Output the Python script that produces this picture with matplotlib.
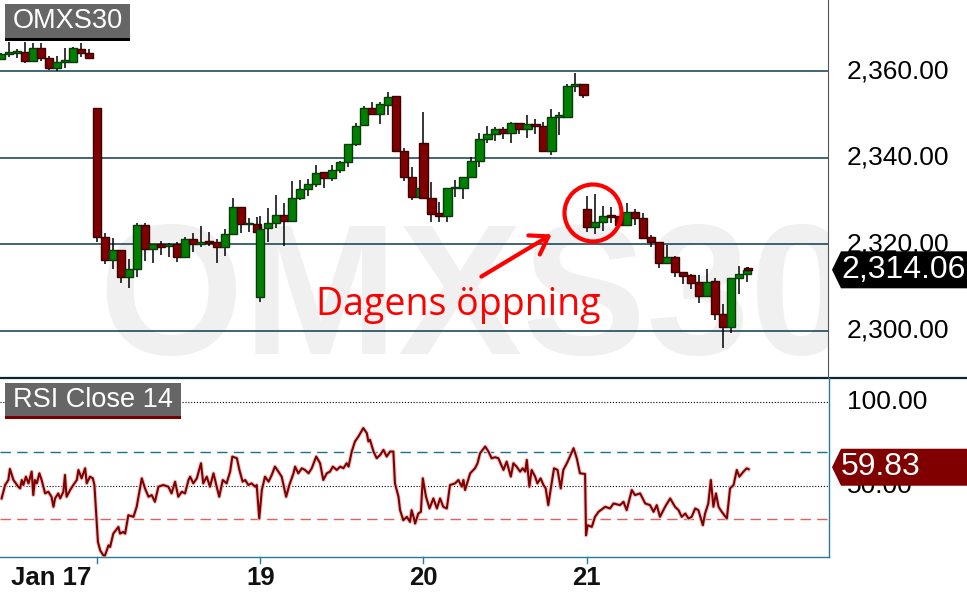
import matplotlib
matplotlib.use("Agg")
import matplotlib.pyplot as plt
import matplotlib.transforms as mtrans
from matplotlib.patches import Rectangle, Polygon, Circle, FancyArrowPatch
from matplotlib.lines import Line2D

# ---------------- data ----------------
day_labels = ["Jan 17", "19", "20", "21"]
day_offsets = [0, 510, 1020, 1530]          # session minutes at each day's open
prev_offset = -525
slot_min_prev = [225, 250, 275, 300, 325, 350, 375, 400, 425, 450, 475, 500]
slot_min_full = [0, 25, 50, 75, 100, 125, 150, 175, 200, 225, 250, 275, 300,
                 325, 350, 375, 400, 425, 450, 475, 500]
slot_min_last = slot_min_full + [505]

prev_open = [2362.8, 2364.05, 2364.2, 2364.45, 2362.5, 2365.4, 2363.05, 2360.75, 2362.25, 2362.25, 2365.15, 2364.2]
prev_high = [2364.2, 2366.9, 2365.1, 2366.8, 2366.5, 2366.5, 2363.6, 2363.6, 2365.4, 2365.75, 2366.5, 2365.15]
prev_low = [2362.6, 2363.4, 2363.05, 2362.0, 2362.4, 2362.5, 2360.35, 2360.1, 2360.75, 2361.9, 2363.4, 2363.0]
prev_close = [2364.05, 2364.45, 2364.7, 2362.5, 2365.4, 2363.05, 2360.75, 2362.25, 2362.65, 2365.4, 2364.2, 2363.05]

d17_open = [2351.5, 2321.7, 2316.3, 2318.65, 2312.3, 2314.2, 2324.45, 2318.8, 2319.95, 2319.6, 2319.95,
            2317.1, 2321.1, 2319.95, 2320.7, 2320.55, 2319.4, 2322.3, 2328.55, 2324.6, 2324.6]
d17_high = [2351.5, 2322.5, 2321.35, 2318.7, 2316.5, 2324.85, 2324.85, 2320.0, 2320.7, 2320.2, 2320.6,
            2321.7, 2322.5, 2324.2, 2322.9, 2321.1, 2323.45, 2330.6, 2328.6, 2326.0, 2326.4]
d17_low = [2320.6, 2315.35, 2314.2, 2311.1, 2309.8, 2312.3, 2316.2, 2315.6, 2317.5, 2317.0, 2315.95,
           2317.0, 2318.25, 2319.3, 2319.6, 2315.7, 2317.25, 2322.3, 2322.65, 2322.9, 2322.7]
d17_close = [2321.6, 2316.3, 2318.65, 2312.3, 2314.2, 2324.45, 2318.8, 2319.95, 2319.4, 2319.95, 2317.1,
             2321.1, 2319.95, 2320.55, 2320.2, 2319.4, 2322.3, 2328.55, 2324.6, 2324.85, 2322.75]

d19_open = [2307.8, 2323.7, 2324.85, 2326.75, 2325.35, 2330.6, 2332.7, 2333.9, 2336.65, 2335.25, 2337.2,
            2338.95, 2343.2, 2347.5, 2351.5, 2350.1, 2352.2, 2354.3, 2341.6, 2335.5, 2331.0]
d19_high = [2326.5, 2328.3, 2331.4, 2329.5, 2334.6, 2334.85, 2335.0, 2338.35, 2336.7, 2338.35, 2339.2,
            2343.3, 2348.1, 2352.0, 2352.85, 2353.0, 2355.2, 2354.3, 2342.2, 2337.95, 2333.0]
d19_low = [2306.7, 2320.6, 2323.8, 2319.65, 2325.3, 2330.2, 2331.2, 2333.3, 2333.1, 2334.7, 2336.4,
           2337.8, 2342.75, 2347.5, 2350.0, 2347.8, 2349.85, 2341.5, 2334.7, 2330.2, 2330.9]
d19_close = [2323.5, 2324.85, 2326.75, 2325.35, 2330.6, 2332.7, 2333.9, 2336.4, 2335.25, 2337.2, 2338.95,
             2343.2, 2347.4, 2351.5, 2350.1, 2352.5, 2354.0, 2341.6, 2335.5, 2331.0, 2332.95]

d20_open = [2343.5, 2330.6, 2327.15, 2326.6, 2332.9, 2332.95, 2335.5, 2339.25, 2344.3, 2345.5, 2346.6,
            2345.7, 2348.0, 2346.6, 2347.75, 2347.4, 2341.65, 2349.5, 2349.5, 2356.65, 2357.1]
d20_high = [2350.7, 2334.5, 2329.85, 2333.0, 2334.85, 2335.6, 2340.1, 2345.8, 2347.4, 2347.2, 2347.2,
            2348.3, 2348.1, 2349.9, 2348.9, 2348.4, 2351.25, 2350.7, 2357.1, 2359.6, 2357.1]
d20_low = [2330.7, 2325.2, 2325.2, 2325.2, 2331.0, 2330.4, 2335.4, 2337.8, 2343.35, 2343.9, 2344.35,
           2343.5, 2345.45, 2344.7, 2345.45, 2341.4, 2340.65, 2345.3, 2349.5, 2355.3, 2353.9]
d20_close = [2330.8, 2327.0, 2326.6, 2332.95, 2333.2, 2335.5, 2339.25, 2344.3, 2345.45, 2346.6, 2345.7,
             2348.0, 2346.6, 2347.75, 2347.3, 2341.65, 2349.4, 2349.9, 2356.65, 2357.1, 2354.5]

d21_open = [2328.1, 2324.05, 2325.2, 2326.75, 2326.5, 2324.4, 2327.4, 2326.0, 2321.7, 2320.4, 2315.6,
            2316.95, 2313.5, 2312.85, 2311.2, 2308.1, 2311.5, 2303.75, 2300.9, 2312.1, 2313.0, 2314.4]
d21_high = [2331.15, 2331.6, 2328.85, 2328.7, 2326.6, 2329.5, 2328.1, 2327.15, 2322.1, 2320.6, 2319.8,
            2317.3, 2313.6, 2313.0, 2312.85, 2314.25, 2312.1, 2306.15, 2312.2, 2314.95, 2314.8, 2314.6]
d21_low = [2322.9, 2322.35, 2323.1, 2324.85, 2324.3, 2324.3, 2324.4, 2321.1, 2319.4, 2314.55, 2315.5,
           2312.3, 2310.8, 2309.6, 2306.45, 2308.0, 2302.4, 2295.9, 2299.5, 2308.45, 2311.3, 2313.9]
d21_close = [2324.05, 2325.2, 2326.5, 2326.4, 2324.4, 2327.4, 2326.0, 2321.5, 2320.4, 2315.6, 2316.95,
             2313.5, 2312.7, 2310.9, 2308.1, 2311.2, 2303.75, 2300.9, 2312.1, 2313.0, 2314.0, 2314.06]

price_ticks = [2300, 2320, 2340, 2360]
price_tick_labels = ["2,300.00", "2,320.00", "2,340.00", "2,360.00"]
last_price = 2314.06
last_price_label = "2,314.06"

rsi_t = [-298, -287, -277, -272, -261, -246, -240, -235, -230, -222, -214, -204, -199, -194, -188, -180,
         -173, -162, -152, -142, -136, -131, -121, -115, -105, -100, -95, -84, -74, -63, -58, -48, -37,
         -32, -22, -13, -8, 3, 10, 20, 25, 36, 41, 51, 67, 72, 82, 88, 98, 114, 124, 140, 150, 161, 171,
         181, 192, 207, 223, 233, 244, 254, 265, 275, 286, 291, 301, 312, 325, 332, 343, 353, 364, 374,
         382, 393, 405, 416, 423, 437, 445, 455, 463, 473, 483, 494, 499, 507, 515, 525, 536, 546, 556,
         567, 577, 591, 601, 614, 619, 629, 640, 650, 661, 671, 685, 697, 707, 718, 728, 737, 749, 760,
         770, 780, 786, 796, 806, 817, 832, 843, 848, 853, 864, 874, 885, 895, 905, 916, 926, 931, 942,
         947, 957, 968, 978, 983, 989, 994, 1004, 1012, 1018, 1028, 1039, 1051, 1062, 1072, 1082, 1093,
         1103, 1119, 1129, 1140, 1145, 1150, 1166, 1181, 1189, 1197, 1213, 1223, 1233, 1244, 1254, 1270,
         1280, 1293, 1301, 1311, 1322, 1330, 1338, 1343, 1351, 1358, 1369, 1376, 1386, 1395, 1402, 1410,
         1418, 1428, 1439, 1449, 1457, 1468, 1473, 1489, 1499, 1509, 1525, 1528, 1533, 1546, 1556, 1567,
         1588, 1603, 1614, 1634, 1645, 1655, 1671, 1681, 1697, 1713, 1728, 1739, 1749, 1759, 1775, 1791,
         1806, 1817, 1827, 1838, 1848, 1858, 1869, 1879, 1893, 1900, 1910, 1918, 1926, 1934, 1942, 1952,
         1968, 1978, 1989, 1999, 2007, 2020, 2030, 2036]
rsi_v = [42.4, 50.4, 53.4, 60.0, 53.4, 49.4, 48.4, 53.4, 50.4, 55.4, 51.4, 58.4, 44.4, 53.4, 51.4, 57.4,
         53.4, 45.4, 46.4, 43.4, 37.4, 42.4, 45.4, 42.4, 46.4, 56.4, 43.4, 47.4, 50.4, 53.4, 59.4, 54.4, 60.4,
         51.4, 55.4, 54.4, 50.4, 16.4, 11.4, 8.4, 8.4, 14.4, 13.4, 21.4, 25.4, 21.4, 22.4, 21.4, 32.4, 31.4,
         37.4, 54.4, 48.4, 43.4, 44.4, 40.4, 49.4, 50.4, 49.4, 45.4, 52.4, 43.4, 46.4, 45.4, 53.4, 55.4,
         51.4, 54.4, 63.4, 51.4, 55.4, 49.4, 57.4, 49.4, 43.4, 53.4, 51.4, 58.4, 67.4, 66.4, 59.4, 52.4,
         53.4, 50.4, 51.4, 49.4, 50.4, 30.4, 47.4, 55.4, 52.4, 56.4, 61.4, 58.4, 55.4, 43.4, 50.4, 57.4,
         61.4, 57.4, 60.4, 59.4, 57.4, 60.4, 67.4, 63.4, 53.4, 57.4, 58.4, 61.4, 59.4, 61.4, 60.4, 63.4,
         61.4, 70.4, 76.4, 79.4, 84.4, 81.4, 76.4, 77.4, 70.4, 66.4, 68.4, 71.4, 67.4, 70.4, 70.4, 51.4,
         43.4, 35.4, 29.4, 31.4, 28.4, 35.4, 31.4, 27.4, 33.4, 34.4, 54.4, 43.4, 36.4, 42.4, 36.4, 42.4,
         37.4, 36.4, 50.4, 51.4, 53.4, 49.4, 53.4, 47.4, 57.4, 60.4, 63.4, 69.4, 73.4, 70.4, 66.4, 67.0,
         66.4, 59.4, 64.4, 55.4, 63.4, 61.4, 58.4, 60.4, 58.4, 65.4, 49.4, 59.4, 55.4, 51.4, 54.4, 50.4,
         48.4, 38.4, 48.4, 60.4, 59.4, 48.4, 59.4, 63.4, 65.4, 72.4, 66.4, 57.4, 57.0, 20.4, 26.4, 25.4,
         31.4, 34.4, 37.4, 36.4, 39.4, 38.4, 40.4, 35.4, 47.4, 44.4, 45.4, 39.4, 38.4, 34.4, 38.4, 31.4,
         37.4, 42.4, 37.4, 35.4, 31.4, 33.4, 30.4, 31.4, 36.4, 35.4, 26.4, 33.4, 39.4, 53.4, 37.4, 45.4,
         37.4, 34.4, 30.4, 48.4, 50.4, 59.4, 55.4, 58.4, 60.4, 59.83]
rsi_last_label = "59.83"
rsi_levels_dotted = [100, 50]
rsi_levels_dashed = [70, 30]
rsi_tick_labels = ["100.00", "50.00"]

# ---------------- layout ----------------
W, H = 967, 599
fig = plt.figure(figsize=(W / 100, H / 100), dpi=100)
fig.patch.set_facecolor("white")
pix = mtrans.Affine2D().scale(1.0 / W, -1.0 / H).translate(0, 1) + fig.transFigure

SEP_Y, BOT_Y, RIGHT_X = 378, 557, 828
ax = fig.add_axes([0, 1 - SEP_Y / H, RIGHT_X / W, SEP_Y / H])
rax = fig.add_axes([0, 1 - BOT_Y / H, RIGHT_X / W, (BOT_Y - SEP_Y) / H])

XMIN, XMAX = -303, 2284
for a in (ax, rax):
    a.set_xlim(XMIN, XMAX)
    a.set_xticks([])
    a.set_yticks([])
    for s in a.spines.values():
        s.set_visible(False)
    a.patch.set_alpha(0)
ax.set_ylim(2289.0, 2376.56)
rax.set_ylim(7.43, 114.3)

FONT = "Liberation Sans"

# watermark
ax.text(98 / RIGHT_X, (SEP_Y - 354) / SEP_Y, "OMXS30", transform=ax.transAxes, fontsize=134,
        family=FONT, fontweight="bold", color="#f0f0f0", ha="left", va="baseline", zorder=0,
        clip_on=True)

# grid lines
for p in price_ticks:
    ax.axhline(p, color="#0f3a4d", lw=1.1, zorder=1)

# candles
GREEN, GREEN_E = "#008000", "#0b3a0b"
RED, RED_E = "#800000", "#3a0000"
days = [
    (prev_offset, slot_min_prev, prev_open, prev_high, prev_low, prev_close),
    (day_offsets[0], slot_min_full, d17_open, d17_high, d17_low, d17_close),
    (day_offsets[1], slot_min_full, d19_open, d19_high, d19_low, d19_close),
    (day_offsets[2], slot_min_full, d20_open, d20_high, d20_low, d20_close),
    (day_offsets[3], slot_min_last, d21_open, d21_high, d21_low, d21_close),
]
z = 2.0
for off, mins, o_, h_, l_, c_ in days:
    for m, o, h, l, c in zip(mins, o_, h_, l_, c_):
        t = off + m
        up = c >= o
        z += 0.01
        ax.vlines(t, l, h, color="black", lw=1.1, zorder=z)
        z += 0.01
        ax.bar(t, max(abs(c - o), 0.35), bottom=min(o, c), width=26,
               color=GREEN if up else RED, edgecolor=GREEN_E if up else RED_E,
               linewidth=1.0, zorder=z)

# RSI panel
for lv in rsi_levels_dotted:
    rax.axhline(lv, color="black", lw=0.8, dashes=(1, 1.6), zorder=1)
rax.axhline(rsi_levels_dashed[0], color="#1e6f93", lw=1.0, dashes=(7.5, 4.5), zorder=1)
rax.axhline(rsi_levels_dashed[1], color="#e0605a", lw=1.0, dashes=(7.5, 4.5), zorder=1)
rax.plot(rsi_t, rsi_v, color="#e8c8c8", lw=3.0, zorder=2, solid_joinstyle="round")
rax.plot(rsi_t, rsi_v, color="#800000", lw=1.5, zorder=3, solid_joinstyle="round")

fig.canvas.draw()


def to_pix(a, x, y):
    X, Y = a.transData.transform((x, y))
    return X, H - Y


# frame lines
fig.add_artist(Line2D([0, W], [SEP_Y, SEP_Y], transform=pix, color="#0c2533", lw=1.6))
fig.add_artist(Line2D([RIGHT_X, RIGHT_X], [0, SEP_Y], transform=pix, color="#555555", lw=0.8))
fig.add_artist(Line2D([RIGHT_X + 1, RIGHT_X + 1], [SEP_Y, BOT_Y], transform=pix, color="#2b7a9b", lw=1.0))
fig.add_artist(Line2D([0, RIGHT_X + 1], [BOT_Y, BOT_Y], transform=pix, color="#2b7a9b", lw=1.0))

# x ticks and labels
for i, (off, lab) in enumerate(zip(day_offsets, day_labels)):
    xp, _ = to_pix(rax, off, 50)
    fig.add_artist(Line2D([xp, xp], [BOT_Y, BOT_Y + 6], transform=pix, color="#2b7a9b", lw=1.0))
    if i == 0:
        fig.text((xp - 6) / W, 1 - 578 / H, lab, ha="right", va="center", fontsize=18.5,
                 fontweight="bold", family=FONT, color="#111111")
    else:
        fig.text(xp / W, 1 - 578 / H, lab, ha="center", va="center", fontsize=18.5,
                 fontweight="bold", family=FONT, color="#111111")

# price labels
for p, lab in zip(price_ticks, price_tick_labels):
    _, yp = to_pix(ax, 0, p)
    fig.text(847 / W, 1 - yp / H, lab, ha="left", va="center", fontsize=19, family=FONT, color="black")
for lv, lab in zip(rsi_levels_dotted, rsi_tick_labels):
    _, yp = to_pix(rax, 0, lv)
    fig.text(847 / W, 1 - yp / H, lab, ha="left", va="center", fontsize=19, family=FONT, color="black")


def value_tag(yc, text, face):
    hh = 18.5
    poly = Polygon([(832, yc), (841, yc - hh), (W, yc - hh), (W, yc + hh), (841, yc + hh)],
                   closed=True, transform=pix, facecolor=face, edgecolor="none", zorder=5)
    fig.add_artist(poly)
    fig.text(841 / W, 1 - yc / H, text, ha="left", va="center", fontsize=23, family=FONT,
             color="white", zorder=6)


_, yp = to_pix(ax, 0, last_price)
value_tag(yp, last_price_label, "black")
_, yr = to_pix(rax, 0, rsi_v[-1])
value_tag(yr - 2, rsi_last_label, "#800000")

# title boxes
fig.add_artist(Rectangle((5, 4), 125, 34, transform=pix, facecolor="#666666", edgecolor="none"))
fig.add_artist(Rectangle((5, 38), 125, 3, transform=pix, facecolor="black", edgecolor="none"))
fig.text(67.5 / W, 1 - 21.5 / H, "OMXS30", ha="center", va="center", fontsize=19.5, family=FONT, color="white")
fig.add_artist(Rectangle((5, 383), 176, 33, transform=pix, facecolor="#666666", edgecolor="none"))
fig.add_artist(Rectangle((5, 416), 176, 3, transform=pix, facecolor="#7a0000", edgecolor="none"))
fig.text(93 / W, 1 - 400 / H, "RSI Close 14", ha="center", va="center", fontsize=19.5, family=FONT, color="white")

# annotation
fig.add_artist(Circle((593, 213), 28.5, transform=pix, fill=False, edgecolor="#ff0000", lw=3.0))
fig.add_artist(FancyArrowPatch((479, 278), (554, 233), transform=pix,
                               arrowstyle="->,head_length=0.6,head_width=0.4",
                               mutation_scale=20, color="#ff0000", lw=3.0))
fig.text(316 / W, 1 - 315 / H, "Dagens öppning", ha="left", va="baseline", fontsize=27,
         family="Open Sans", color="#ff0000")

fig.savefig("out.png", dpi=100, facecolor="white")
